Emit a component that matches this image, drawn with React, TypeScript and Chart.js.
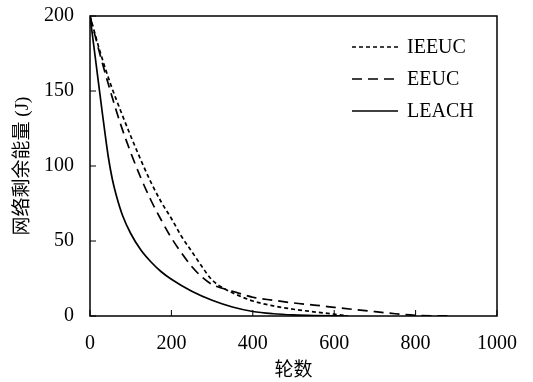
import React, { useEffect, useRef } from 'react';
import { Chart, registerables } from 'chart.js';

Chart.register(...registerables);

const xTicks = [0, 200, 400, 600, 800, 1000];
const yTicks = [0, 50, 100, 150, 200];
const xTitle = '轮数';
const yTitle = '网络剩余能量 (J)';
const seriesNames = ['IEEUC', 'EEUC', 'LEACH'];

const ieeucRounds = [0, 25, 50, 75, 100, 125, 150, 175, 200, 225, 250, 275, 300, 325, 350, 400, 450, 500, 550, 600, 634];
const ieeucEnergy = [200, 176, 155, 137, 120, 104, 89, 76, 65, 53, 43, 33, 24, 19, 15.5, 10, 6.8, 4.5, 2.8, 1.2, 0];

const eeucRounds = [0, 25, 50, 75, 100, 125, 150, 175, 200, 225, 250, 275, 300, 325, 350, 400, 450, 500, 550, 600, 650, 700, 750, 800, 850, 888];
const eeucEnergy = [200, 174, 150, 128, 109, 92, 77, 64, 52, 42, 33, 26, 21, 18.5, 16.5, 12.5, 10.5, 8.7, 7.3, 5.8, 4.3, 2.9, 1.5, 0.5, 0.1, 0];

const leachRounds = [0, 15, 30, 45, 55, 65, 80, 100, 125, 150, 175, 200, 250, 300, 350, 400, 450, 500, 550, 634];
const leachEnergy = [200, 168, 136, 106, 91, 80, 67, 55, 44, 36, 29.5, 24.5, 16.5, 10.5, 6, 3, 1.5, 0.7, 0.3, 0];

const dashes: number[][] = [[4, 3], [10, 6], []];

const SERIF = '"Liberation Serif", "Times New Roman", "Noto Sans CJK SC", serif';

const toPoints = (xs: number[], ys: number[]) => xs.map((x, i) => ({ x, y: ys[i] }));

const framePlugin = {
  id: 'frameTicks',
  afterDraw(chart: any) {
    const { ctx, chartArea } = chart;
    const { left, right, top, bottom } = chartArea;
    const xs = chart.scales.x;
    const ys = chart.scales.y;
    ctx.save();
    ctx.strokeStyle = '#000';
    ctx.lineWidth = 1.5;
    ctx.setLineDash([]);
    ctx.strokeRect(left, top, right - left, bottom - top);
    ctx.beginPath();
    xTicks.forEach((v) => {
      const px = xs.getPixelForValue(v);
      ctx.moveTo(px, bottom);
      ctx.lineTo(px, bottom - 6);
    });
    yTicks.forEach((v) => {
      const py = ys.getPixelForValue(v);
      ctx.moveTo(left, py);
      ctx.lineTo(left + 6, py);
    });
    ctx.lineWidth = 1;
    ctx.stroke();

    // legend
    const lx0 = 352;
    const lx1 = 398;
    const rows = [47, 79, 111];
    ctx.font = '20px ' + SERIF;
    ctx.textBaseline = 'middle';
    ctx.textAlign = 'left';
    ctx.fillStyle = '#000';
    chart.data.datasets.forEach((ds: any, i: number) => {
      ctx.beginPath();
      ctx.setLineDash(ds.borderDash || []);
      ctx.lineWidth = ds.borderWidth;
      ctx.strokeStyle = ds.borderColor;
      ctx.moveTo(lx0, rows[i]);
      ctx.lineTo(lx1, rows[i]);
      ctx.stroke();
      ctx.setLineDash([]);
      ctx.fillText(ds.label, 407, rows[i] + 1);
    });
    ctx.restore();
  },
};

export default function App() {
  const ref = useRef<HTMLCanvasElement>(null);
  useEffect(() => {
    if (!ref.current) return;
    const series = [
      toPoints(ieeucRounds, ieeucEnergy),
      toPoints(eeucRounds, eeucEnergy),
      toPoints(leachRounds, leachEnergy),
    ];
    const chart = new Chart(ref.current, {
      type: 'line',
      data: {
        datasets: series.map((pts, i) => ({
          label: seriesNames[i],
          data: pts,
          borderColor: '#000',
          borderWidth: 1.7,
          borderDash: dashes[i],
          pointRadius: 0,
          fill: false,
          cubicInterpolationMode: 'monotone' as const,
        })),
      },
      options: {
        animation: false,
        responsive: false,
        maintainAspectRatio: false,
        layout: { padding: { left: 0, top: 16, right: 36, bottom: 0 } },
        plugins: { legend: { display: false }, tooltip: { enabled: false } },
        scales: {
          x: {
            type: 'linear',
            min: 0,
            max: 1000,
            afterBuildTicks: (s: any) => {
              s.ticks = xTicks.map((v) => ({ value: v }));
            },
            ticks: {
              padding: 8,
              color: '#000',
              font: { family: SERIF, size: 20 },
              callback: (v: any) => String(v),
            },
            grid: { display: false },
            border: { display: false },
            title: {
              display: true,
              text: xTitle,
              color: '#000',
              font: { family: SERIF, size: 19 },
              padding: { top: 0, bottom: 0 },
            },
            afterFit: (s: any) => {
              s.height = 66;
              s.paddingLeft = 0;
              s.paddingRight = 0;
            },
          },
          y: {
            type: 'linear',
            min: 0,
            max: 200,
            afterBuildTicks: (s: any) => {
              s.ticks = yTicks.map((v) => ({ value: v }));
            },
            ticks: {
              padding: 8,
              color: '#000',
              font: { family: SERIF, size: 20 },
              callback: (v: any) => String(v),
            },
            grid: { display: false },
            border: { display: false },
            title: {
              display: true,
              text: yTitle,
              color: '#000',
              font: { family: SERIF, size: 19 },
              padding: { top: 12, bottom: 0 },
            },
            afterFit: (s: any) => {
              s.width = 90;
              s.paddingTop = 0;
              s.paddingBottom = 0;
            },
          },
        },
      },
      plugins: [framePlugin],
    });
    return () => chart.destroy();
  }, []);
  return (
    <div style={{ position: 'absolute', left: 0, top: 0, width: 533, height: 382, background: '#fff' }}>
      <canvas ref={ref} width={533} height={382} style={{ width: 533, height: 382 }} />
    </div>
  );
}
